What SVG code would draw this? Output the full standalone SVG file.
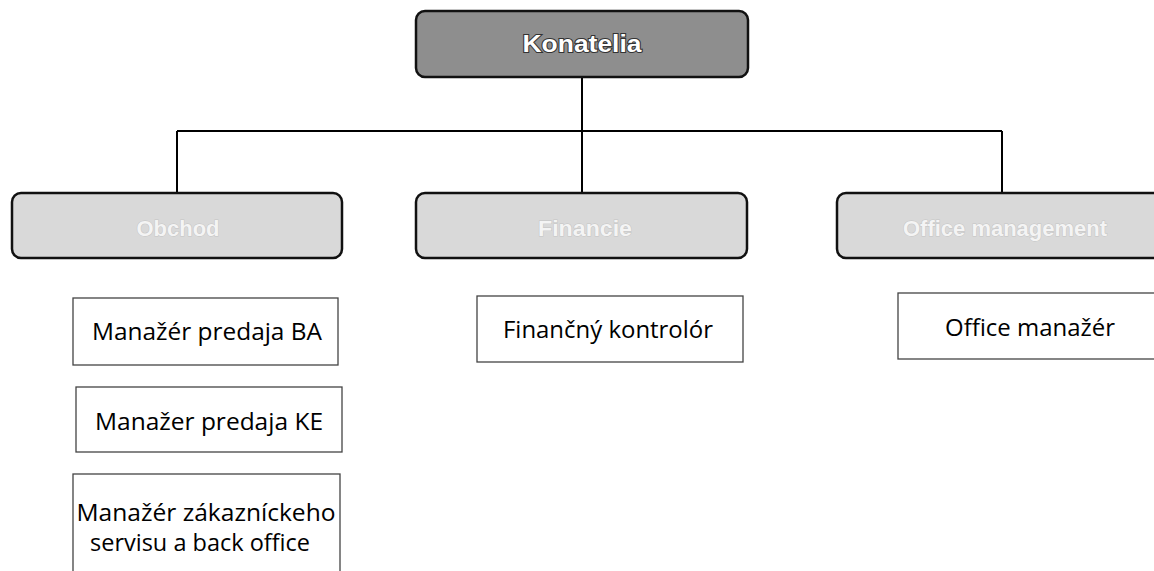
<svg xmlns="http://www.w3.org/2000/svg" width="1154" height="571" viewBox="0 0 1154 571">
<style>
.top{fill:#8e8e8e;stroke:#111;stroke-width:2.5}
.dept{fill:#d9d9d9;stroke:#111;stroke-width:2.5}
.role{fill:#fff;stroke:#444;stroke-width:1.3}
.conn{stroke:#000;stroke-width:2;fill:none}
.ttop{font-family:"Liberation Sans",Arial,sans-serif;font-weight:bold;font-size:24px;fill:#fff;stroke:#333;stroke-width:2;paint-order:stroke;text-anchor:middle}
.tdept{font-family:"Liberation Sans",Arial,sans-serif;font-weight:bold;font-size:22px;fill:#f4f4f4;stroke:#c4c4c4;stroke-width:1;paint-order:stroke;text-anchor:middle}
.trole{font-family:"Open Sans","Liberation Sans",sans-serif;font-size:23px;fill:#000;text-anchor:middle}
</style>
<g id="connectors">
<path class="conn" d="M582 77 V131 M177 131 H1002 M177 131 V193 M582 131 V193 M1002 131 V193"/>
</g>
<g id="konatelia">
<rect class="top" x="416" y="11" width="332" height="66" rx="9"/>
<text class="ttop" x="582" y="52" textLength="119" lengthAdjust="spacingAndGlyphs">Konatelia</text>
</g>
<g id="obchod">
<rect class="dept" x="12" y="193" width="330" height="65" rx="9"/>
<text class="tdept" x="178" y="236" textLength="83" lengthAdjust="spacingAndGlyphs">Obchod</text>
</g>
<g id="financie">
<rect class="dept" x="416" y="193" width="331" height="65" rx="9"/>
<text class="tdept" x="585" y="236" textLength="94" lengthAdjust="spacingAndGlyphs">Financie</text>
</g>
<g id="office-management">
<rect class="dept" x="837" y="193" width="330" height="65" rx="9"/>
<text class="tdept" x="1005" y="236" textLength="204" lengthAdjust="spacingAndGlyphs">Office management</text>
</g>
<g id="manazer-ba">
<rect class="role" x="73" y="298" width="265" height="67"/>
<text class="trole" x="207" y="340" textLength="230" lengthAdjust="spacingAndGlyphs">Manažér predaja BA</text>
</g>
<g id="manazer-ke">
<rect class="role" x="76" y="387" width="266" height="65"/>
<text class="trole" x="209" y="430" textLength="228" lengthAdjust="spacingAndGlyphs">Manažer predaja KE</text>
</g>
<g id="manazer-zakaznicky">
<rect class="role" x="73" y="474" width="267" height="110"/>
<text class="trole" x="206" y="521" textLength="259" lengthAdjust="spacingAndGlyphs">Manažér zákazníckeho</text>
<text class="trole" x="200" y="551" textLength="220" lengthAdjust="spacingAndGlyphs">servisu a back office</text>
</g>
<g id="financny-kontrolor">
<rect class="role" x="477" y="296" width="266" height="66"/>
<text class="trole" x="608" y="338" textLength="210" lengthAdjust="spacingAndGlyphs">Finančný kontrolór</text>
</g>
<g id="office-manazer">
<rect class="role" x="898" y="293" width="258" height="66"/>
<text class="trole" x="1030" y="336" textLength="170" lengthAdjust="spacingAndGlyphs">Office manažér</text>
</g>
</svg>
